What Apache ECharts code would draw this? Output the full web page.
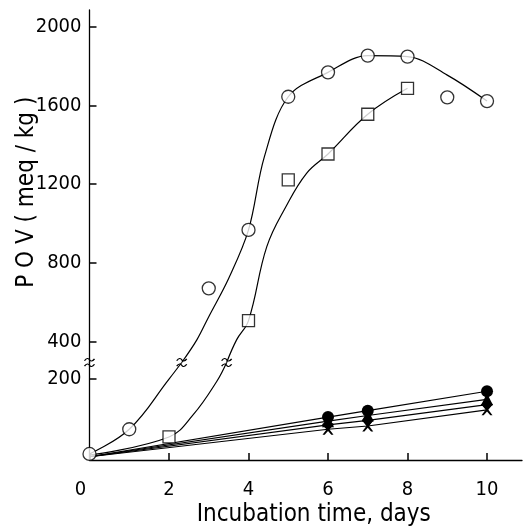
<!DOCTYPE html>
<html><head><meta charset="utf-8">
<script src="https://cdn.jsdelivr.net/npm/echarts@6/dist/echarts.min.js"></script>
<style>html,body{margin:0;padding:0;background:#fff}#c{width:525px;height:529px}</style>
</head><body><div id="c"></div>
<script>
// ---- data ----
const xTicks = [0, 2, 4, 6, 8, 10];
const yTicksUpper = [400, 800, 1200, 1600, 2000];
const yTicksLower = [200];
const xMax = 10.88;
const lowerMax = 241;   // top of lower panel (axis break)
const upperMin = 293;   // bottom of upper panel (axis break)
const upperMax = 2085;

// open circles
const circleLow = [[0, 15], [1, 76]];
const circleHigh = [[3, 670], [4, 967], [5, 1644], [6, 1768], [7, 1853], [8, 1848], [9, 1641], [10, 1622]];
// open squares
const squareLow = [[2, 57]];
const squareHigh = [[4, 506], [5, 1221], [6, 1353], [7, 1555], [8, 1687]];

// fitted curves
const circleCurveLow = [[0, 15], [1, 76], [2, 200], [2.32, 241]];
const circleCurveHigh = [[2.32, 293], [2.7, 408], [3, 526], [3.5, 720], [4, 967], [4.4, 1340], [5, 1644], [6, 1768], [7, 1853], [8, 1848], [9, 1754], [10, 1622]];
const squareCurveLow = [[0, 12], [2, 57], [2.61, 112], [3.2, 194], [3.45, 241]];
const squareCurveHigh = [[3.45, 293], [3.7, 408], [4, 506], [4.46, 882], [4.94, 1085], [5.46, 1255], [6, 1353], [7, 1555], [8, 1687]];

// lower four series (filled markers)
const lowDays = [0, 6, 7, 10];
const filledCircle = [8, 106, 122, 170];
const filledTriangle = [8, 96, 110, 150];
const filledDiamond = [8, 87, 98, 137];
const crossMark = [8, 76, 84, 124];

// ---- chart ----
const FONT = '"Liberation Sans Narrow", "DejaVu Sans Condensed", "Roboto Condensed", "Liberation Sans", sans-serif';
const breakPath = 'path://M0,3 C2,0 4,0 5,2 C6,4 8,4 10,1 M0,9 C2,6 4,6 5,8 C6,10 8,10 10,7';
const crossPath = 'path://M0,0 L2,0 L5,3.5 L8,0 L10,0 L6.2,5 L10,10 L8,10 L5,6.5 L2,10 L0,10 L3.8,5 Z';

function lowSeries(vals, symbol) {
  return {
    type: 'line', xAxisIndex: 1, yAxisIndex: 1, z: 3,
    data: lowDays.map((d, i) => i === 0 ? { value: [d, vals[i]], symbol: 'none' } : [d, vals[i]]),
    symbol: symbol, symbolSize: symbol === crossPath ? 11 : 12, showSymbol: true,
    lineStyle: { color: '#000', width: 1.2 },
    itemStyle: { color: '#000' }, animation: false
  };
}
function breakMark(coord) {
  return {
    symbol: breakPath, symbolSize: [10, 8], label: { show: false },
    itemStyle: { color: 'rgba(255,255,255,0)', borderColor: '#000', borderWidth: 1.2 },
    data: [{ coord: coord }]
  };
}
function tickStyle(vals) {
  return { show: true, inside: true, length: 7, lineStyle: { color: '#000', width: 1.5 }, customValues: vals };
}

const axisLblStyle = { color: '#000', fontFamily: FONT, fontSize: 20 };

const option = {
  backgroundColor: '#fff',
  animation: false,
  grid: [
    { left: 89.5, right: 3, top: 10, bottom: 166.5, outerBoundsMode: 'none', containLabel: false },
    { left: 89.5, right: 3, top: 362.5, bottom: 69, outerBoundsMode: 'none', containLabel: false }
  ],
  xAxis: [
    { gridIndex: 0, type: 'value', min: 0, max: xMax, show: false },
    {
      gridIndex: 1, type: 'value', min: 0, max: xMax,
      axisLine: { lineStyle: { color: '#000', width: 1.3 } },
      axisTick: tickStyle(xTicks),
      axisLabel: Object.assign({}, axisLblStyle, {
        margin: 20, customValues: xTicks,
        formatter: v => v === 0 ? '{z|0}' : String(v),
        rich: { z: { fontFamily: FONT, fontSize: 20, color: '#000', padding: [0, 18, 0, 0] } }
      }),
      splitLine: { show: false },
      name: 'Incubation time, days', nameLocation: 'middle', nameGap: 43, nameMoveOverlap: false,
      nameTextStyle: { color: '#000', fontFamily: FONT, fontSize: 24, padding: [0, 0, 0, 16] }
    }
  ],
  yAxis: [
    {
      gridIndex: 0, type: 'value', min: upperMin, max: upperMax,
      axisLine: { show: true, lineStyle: { color: '#000', width: 1.3 } },
      axisTick: tickStyle(yTicksUpper),
      axisLabel: Object.assign({}, axisLblStyle, { margin: 8, customValues: yTicksUpper, formatter: v => String(v) }),
      splitLine: { show: false },
      name: 'P O V ( meq / kg )', nameLocation: 'middle', nameGap: 51, nameRotate: 90, nameMoveOverlap: false,
      nameTextStyle: { color: '#000', fontFamily: FONT, fontSize: 24, padding: [0, 12, 0, 0] }
    },
    {
      gridIndex: 1, type: 'value', min: 0, max: lowerMax,
      axisLine: { show: true, lineStyle: { color: '#000', width: 1.3 } },
      axisTick: tickStyle(yTicksLower),
      axisLabel: Object.assign({}, axisLblStyle, { margin: 8, customValues: yTicksLower, formatter: v => String(v) }),
      splitLine: { show: false }
    }
  ],
  series: [
    // curves
    { type: 'line', xAxisIndex: 1, yAxisIndex: 1, data: circleCurveLow, smooth: 0.4, symbol: 'none', z: 2,
      lineStyle: { color: '#000', width: 1.2 }, markPoint: breakMark([2.32, lowerMax]) },
    { type: 'line', xAxisIndex: 0, yAxisIndex: 0, data: circleCurveHigh, smooth: 0.35, symbol: 'none', z: 2,
      lineStyle: { color: '#000', width: 1.2 } },
    { type: 'line', xAxisIndex: 1, yAxisIndex: 1, data: squareCurveLow, smooth: 0.4, symbol: 'none', z: 2,
      lineStyle: { color: '#000', width: 1.2 }, markPoint: breakMark([3.45, lowerMax]) },
    { type: 'line', xAxisIndex: 0, yAxisIndex: 0, data: squareCurveHigh, smooth: 0.4, symbol: 'none', z: 2,
      lineStyle: { color: '#000', width: 1.2 }, markPoint: breakMark([0, upperMin]) },
    // lower series
    lowSeries(filledCircle, 'circle'),
    lowSeries(filledTriangle, 'triangle'),
    lowSeries(filledDiamond, 'diamond'),
    lowSeries(crossMark, crossPath),
    // open markers
    { type: 'scatter', xAxisIndex: 1, yAxisIndex: 1, data: circleLow, symbol: 'circle', symbolSize: 13, z: 5,
      itemStyle: { color: '#fff', borderColor: '#000', borderWidth: 1.3 } },
    { type: 'scatter', xAxisIndex: 0, yAxisIndex: 0, data: circleHigh, symbol: 'circle', symbolSize: 13, z: 5,
      itemStyle: { color: '#fff', borderColor: '#000', borderWidth: 1.3 } },
    { type: 'scatter', xAxisIndex: 1, yAxisIndex: 1, data: squareLow, symbol: 'rect', symbolSize: 12, z: 5,
      itemStyle: { color: '#fff', borderColor: '#000', borderWidth: 1.3 } },
    { type: 'scatter', xAxisIndex: 0, yAxisIndex: 0, data: squareHigh, symbol: 'rect', symbolSize: 12, z: 5,
      itemStyle: { color: '#fff', borderColor: '#000', borderWidth: 1.3 } }
  ]
};
const chart = echarts.init(document.getElementById('c'), null, { renderer: 'canvas' });
chart.setOption(option);
</script></body></html>
